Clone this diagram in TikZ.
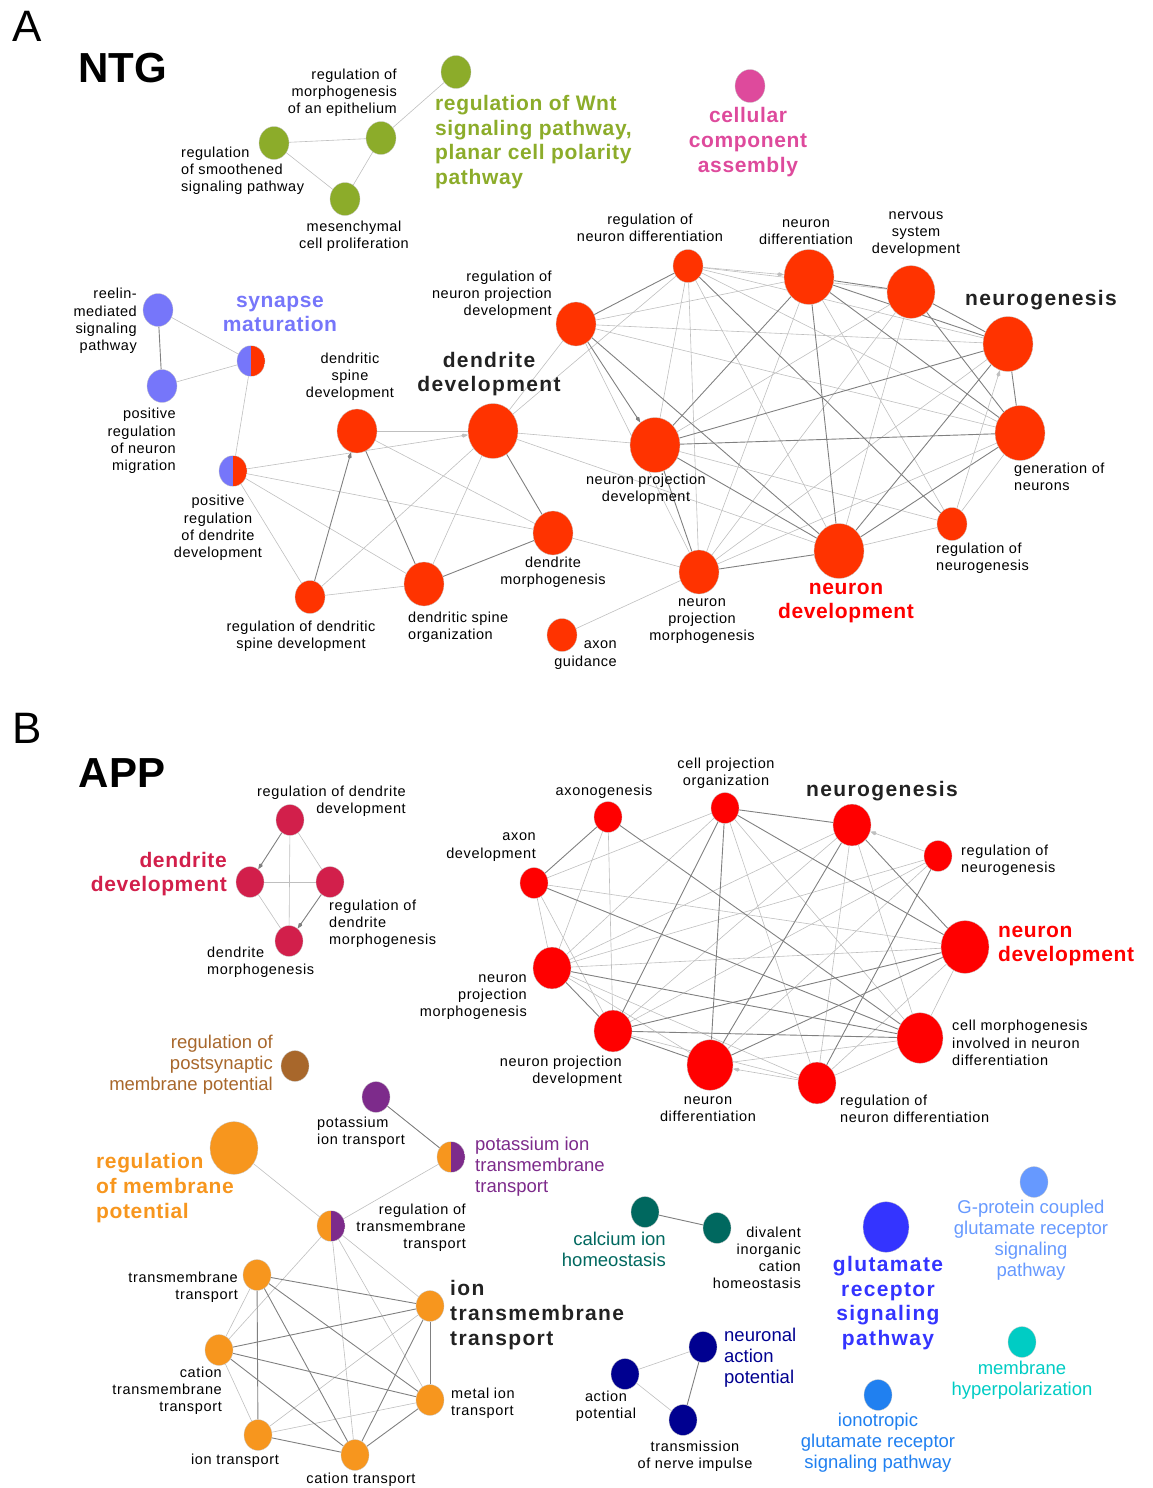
\documentclass[tikz,border=0pt]{standalone}
\usepackage{fontspec}
\setmainfont{Liberation Sans}
\usetikzlibrary{positioning,calc,arrows.meta,shapes.geometric}
\pgfdeclarelayer{background}
\pgfsetlayers{background,main}

\definecolor{ntgred}{HTML}{FF3300}
\definecolor{appred}{HTML}{FF0000}
\definecolor{wntgreen}{HTML}{8CAC2A}
\definecolor{ccapink}{HTML}{DE4A9C}
\definecolor{synblue}{HTML}{7676FA}
\definecolor{dendcrim}{HTML}{D21F4B}
\definecolor{psbrown}{HTML}{A8672B}
\definecolor{kpurple}{HTML}{7D2B8B}
\definecolor{memorange}{HTML}{F7961E}
\definecolor{caTeal}{HTML}{00685F}
\definecolor{apnavy}{HTML}{000090}
\definecolor{glublue}{HTML}{3434FF}
\definecolor{gpcrblue}{HTML}{6699FF}
\definecolor{iontblue}{HTML}{2080F0}
\definecolor{hypcyan}{HTML}{00CCC4}
\definecolor{darklbl}{HTML}{222222}

\newcommand\lblfont{\fontsize{14.5}{17.2}\selectfont\addfontfeature{LetterSpace=3.5}}
\newcommand\applblfont{\fontsize{14.5}{17.2}\selectfont\addfontfeature{LetterSpace=4.5}}
\newcommand\termfont{\fontsize{18.5}{21}\selectfont}
\newcommand\hdrfont{\fontsize{21}{24.6}\selectfont\bfseries\addfontfeature{LetterSpace=3}}
\newcommand\widehdrfont{\fontsize{21}{24.6}\selectfont\bfseries\addfontfeature{LetterSpace=6.5}}
\newcommand\panelfont{\fontsize{44}{48}\selectfont}
\newcommand\netfont{\fontsize{42}{46}\selectfont\bfseries}

\tikzset{
  go/.style={ellipse, inner sep=0pt, draw=gray!45, line width=0.3pt,
    minimum width=#1pt, minimum height={1.1*#1pt}},
  halfgo/.style n args={3}{go=#1, path picture={
    \fill[#2] (path picture bounding box.south west) rectangle (path picture bounding box.north);
    \fill[#3] (path picture bounding box.south) rectangle (path picture bounding box.north east);}},
  lbl/.style={inner sep=0pt, font=\lblfont},
  applbl/.style={inner sep=0pt, font=\applblfont},
  term/.style={inner sep=0pt, font=\termfont},
  hdr/.style={inner sep=0pt, font=\hdrfont},
  widehdr/.style={inner sep=0pt, font=\widehdrfont, text=darklbl},
  dk/.style={draw=black!50, line width=0.9pt},
  lt/.style={draw=black!25, line width=0.6pt},
  tip/.style={-{Kite[length=7pt,width=4pt,inset=2pt]}},
}

\begin{document}
\begin{tikzpicture}[x=1pt,y=-1pt]
\useasboundingbox (0,0) rectangle (1152,1488);

% ---------- A : NTG ----------
\node[font=\panelfont] (panA) at (27,26) {A};
\node[font=\netfont] (ntg) at (123,68) {NTG};

\node[go=30,fill=wntgreen] (wnt) at (456,72) {};
\node[go=30,fill=wntgreen] (morph) at (381,138) {};
\node[go=30,fill=wntgreen] (smooth) at (274,143) {};
\node[go=30,fill=wntgreen] (mesen) at (345,199) {};
\node[go=30,fill=ccapink] (cca) at (750,86) {};

\node[go=30,fill=synblue] (reelin) at (158,310) {};
\node[go=30,fill=synblue] (posmig) at (162,386) {};
\node[halfgo={28}{synblue}{ntgred}] (synmat) at (251,361) {};
\node[halfgo={28}{synblue}{ntgred}] (posdend) at (233,471) {};

\node[go=30,fill=ntgred] (regdiff) at (688,266) {};
\node[go=50,fill=ntgred] (neurdiff) at (809,277) {};
\node[go=48,fill=ntgred] (nsd) at (911,292) {};
\node[go=50,fill=ntgred] (neurogen) at (1008,344) {};
\node[go=50,fill=ntgred] (genneur) at (1020,433) {};
\node[go=30,fill=ntgred] (regneurogen) at (952,524) {};
\node[go=50,fill=ntgred] (neurdev) at (839,551) {};
\node[go=40,fill=ntgred] (npm) at (699,572) {};
\node[go=50,fill=ntgred] (npd) at (655,445) {};
\node[go=40,fill=ntgred] (regnpd) at (576,324) {};
\node[go=50,fill=ntgred] (dendev) at (493,431) {};
\node[go=40,fill=ntgred] (dsd) at (357,431) {};
\node[go=40,fill=ntgred] (dmorph) at (553,533) {};
\node[go=40,fill=ntgred] (dso) at (424,584) {};
\node[go=30,fill=ntgred] (rdsd) at (310,597) {};
\node[go=30,fill=ntgred] (axon) at (562,635) {};

\node[lbl, align=right, anchor=east] (l-morph) at (397,93) {regulation of\\morphogenesis\\of an epithelium};
\node[lbl, align=left, anchor=west] (l-smooth) at (181,171) {regulation\\of smoothened\\signaling pathway};
\node[lbl, align=center] (l-mesen) at (354,236) {mesenchymal\\cell proliferation};
\node[hdr, text=wntgreen, align=left, anchor=west] (l-wnt) at (435,142) {regulation of Wnt\\signaling pathway,\\planar cell polarity\\pathway};
\node[hdr, text=ccapink, align=center] (l-cca) at (748,142) {cellular\\component\\assembly};
\node[lbl, align=right, anchor=east] (l-reelin) at (137,321) {reelin-\\mediated\\signaling\\pathway};
\node[hdr, text=synblue, align=center] (l-synmat) at (280,314) {synapse\\maturation};
\node[lbl, align=right, anchor=east] (l-posmig) at (176,441) {positive\\regulation\\of neuron\\migration};
\node[lbl, align=center] (l-dsd) at (350,377) {dendritic\\spine\\development};
\node[widehdr, align=center] (l-dendev) at (489,374) {dendrite\\development};
\node[lbl, align=center] (l-posdend) at (218,528) {positive\\regulation\\of dendrite\\development};
\node[lbl, align=center] (l-rdsd) at (301,636) {regulation of dendritic\\spine development};
\node[lbl, align=left, anchor=west] (l-dso) at (408,627) {dendritic spine\\organization};
\node[lbl, align=center] (l-dmorph) at (553,572) {dendrite\\morphogenesis};
\node[lbl, align=right, anchor=east] (l-axon) at (617,655) {axon\\guidance};
\node[lbl, align=center] (l-npm) at (702,621) {neuron\\projection\\morphogenesis};
\node[hdr, text=appred, align=center] (l-neurdev) at (846,603) {neuron\\development};
\node[lbl, align=left, anchor=west] (l-regneurogen) at (936,558) {regulation of\\neurogenesis};
\node[lbl, align=left, anchor=west] (l-genneur) at (1014,477) {generation of\\neurons};
\node[widehdr] (l-neurogen) at (1041,300) {neurogenesis};
\node[lbl, align=center] (l-nsd) at (916,234) {nervous\\system\\development};
\node[lbl, align=center] (l-neurdiff) at (806,232) {neuron\\differentiation};
\node[lbl, align=center] (l-regdiff) at (650,228) {regulation of\\neuron differentiation};
\node[lbl, align=right, anchor=east] (l-regnpd) at (552,295) {regulation of\\neuron projection\\development};
\node[lbl, align=center] (l-npd) at (646,489) {neuron projection\\development};

% ---------- B : APP ----------
\node[font=\panelfont] (panB) at (27,728) {B};
\node[font=\netfont] (app) at (122,773) {APP};

\node[go=28,fill=dendcrim] (rdd) at (290,820) {};
\node[go=28,fill=dendcrim] (dd) at (250,882) {};
\node[go=28,fill=dendcrim] (rdm) at (330,882) {};
\node[go=28,fill=dendcrim] (dm) at (289,941) {};

\node[go=28,fill=appred] (axg) at (608,817) {};
\node[go=28,fill=appred] (cpo) at (725,808) {};
\node[go=38,fill=appred] (ng) at (852,825) {};
\node[go=28,fill=appred] (rng) at (938,856) {};
\node[go=48,fill=appred] (nd) at (965,947) {};
\node[go=46,fill=appred] (cmi) at (920,1038) {};
\node[go=38,fill=appred] (rnd) at (817,1083) {};
\node[go=46,fill=appred] (ndiff) at (710,1065) {};
\node[go=38,fill=appred] (npd2) at (613,1031) {};
\node[go=38,fill=appred] (npm2) at (552,968) {};
\node[go=28,fill=appred] (ad) at (534,883) {};

\node[go=28,fill=psbrown] (rpmp) at (295,1066) {};
\node[go=28,fill=kpurple] (pit) at (376,1097) {};
\node[halfgo={28}{memorange}{kpurple}] (pitt) at (451,1157) {};
\node[halfgo={28}{memorange}{kpurple}] (rtt) at (331,1226) {};
\node[go=48,fill=memorange] (rmp) at (234,1148) {};
\node[go=28,fill=memorange] (tt) at (257,1275) {};
\node[go=28,fill=memorange] (itt) at (430,1306) {};
\node[go=28,fill=memorange] (ctt) at (219,1350) {};
\node[go=28,fill=memorange] (mit) at (430,1400) {};
\node[go=28,fill=memorange] (it) at (258,1435) {};
\node[go=28,fill=memorange] (ct) at (355,1455) {};

\node[go=28,fill=caTeal] (cih) at (645,1212) {};
\node[go=28,fill=caTeal] (dich) at (717,1228) {};
\node[go=28,fill=apnavy] (nap) at (703,1347) {};
\node[go=28,fill=apnavy] (ap) at (625,1374) {};
\node[go=28,fill=apnavy] (tni) at (683,1420) {};
\node[go=46,fill=glublue] (grsp) at (886,1227) {};
\node[go=28,fill=gpcrblue] (gpcr) at (1034,1182) {};
\node[go=28,fill=iontblue] (igr) at (878,1395) {};
\node[go=28,fill=hypcyan] (mh) at (1022,1342) {};

\node[applbl, align=right, anchor=east] (l-rdd) at (406,801) {regulation of dendrite\\development};
\node[hdr, text=dendcrim, align=right, anchor=east] (l-dd) at (227,874) {dendrite\\development};
\node[applbl, align=left, anchor=west] (l-rdm) at (329,924) {regulation of\\dendrite\\morphogenesis};
\node[applbl, align=left, anchor=west] (l-dm) at (207,962) {dendrite\\morphogenesis};
\node[applbl] (l-axg) at (604,792) {axonogenesis};
\node[applbl, align=center] (l-cpo) at (726,773) {cell projection\\organization};
\node[widehdr] (l-ng) at (882,791) {neurogenesis};
\node[applbl, align=left, anchor=west] (l-rng) at (961,860) {regulation of\\neurogenesis};
\node[applbl, align=right, anchor=east] (l-ad) at (536,847) {axon\\development};
\node[hdr, text=appred, align=left, anchor=west] (l-nd) at (998,946) {neuron\\development};
\node[applbl, align=right, anchor=east] (l-npm2) at (527,997) {neuron\\projection\\morphogenesis};
\node[applbl, align=left, anchor=west] (l-cmi) at (952,1043) {cell morphogenesis\\involved in neuron\\differentiation};
\node[applbl, align=right, anchor=east] (l-npd2) at (622,1071) {neuron projection\\development};
\node[applbl, align=center] (l-ndiff) at (708,1109) {neuron\\differentiation};
\node[applbl, align=left, anchor=west] (l-rnd) at (840,1109) {regulation of\\neuron differentiation};
\node[term, text=psbrown, align=right, anchor=east] (l-rpmp) at (273,1065) {regulation of\\postsynaptic\\membrane potential};
\node[applbl, align=left, anchor=west] (l-pit) at (317,1132) {potassium\\ion transport};
\node[term, text=kpurple, align=left, anchor=west] (l-pitt) at (475,1167) {potassium ion\\transmembrane\\transport};
\node[hdr, text=memorange, align=left, anchor=west] (l-rmp) at (96,1188) {regulation\\of membrane\\potential};
\node[applbl, align=right, anchor=east] (l-rtt) at (466,1228) {regulation of\\transmembrane\\transport};
\node[term, text=caTeal, align=right, anchor=east] (l-cih) at (666,1249) {calcium ion\\homeostasis};
\node[applbl, align=right, anchor=east] (l-dich) at (801,1258) {divalent\\inorganic\\cation\\homeostasis};
\node[widehdr, text=glublue, align=center] (l-grsp) at (888,1303) {glutamate\\receptor\\signaling\\pathway};
\node[term, text=gpcrblue, align=center] (l-gpcr) at (1031,1240) {G-protein coupled\\glutamate receptor\\signaling\\pathway};
\node[applbl, align=right, anchor=east] (l-tt) at (238,1287) {transmembrane\\transport};
\node[widehdr, align=left, anchor=west] (l-itt) at (450,1315) {ion\\transmembrane\\transport};
\node[term, text=apnavy, align=left, anchor=west] (l-nap) at (724,1358) {neuronal\\action\\potential};
\node[term, text=hypcyan, align=center] (l-mh) at (1022,1380) {membrane\\hyperpolarization};
\node[applbl, align=right, anchor=east] (l-ctt) at (222,1391) {cation\\transmembrane\\transport};
\node[applbl, align=left, anchor=west] (l-mit) at (451,1403) {metal ion\\transport};
\node[applbl, align=center] (l-ap) at (606,1406) {action\\potential};
\node[term, text=iontblue, align=center] (l-igr) at (878,1443) {ionotropic\\glutamate receptor\\signaling pathway};
\node[applbl, align=center] (l-tni) at (695,1456) {transmission\\of nerve impulse};
\node[applbl] (l-it) at (235,1461) {ion transport};
\node[applbl] (l-ct) at (361,1480) {cation transport};

% ---------- edges ----------
\begin{pgfonlayer}{background}
% NTG
\foreach \a/\b in {wnt/morph,morph/smooth,morph/mesen,smooth/mesen,
    reelin/synmat,posmig/synmat,synmat/posdend,
    regdiff/nsd,regdiff/neurogen,regdiff/npd,regdiff/neurdev,regdiff/dendev,regdiff/genneur,
    neurdiff/npm,neurdiff/regneurogen,neurdiff/regnpd,nsd/neurdev,nsd/npd,nsd/npm,
    neurogen/npm,neurogen/regnpd,genneur/regneurogen,genneur/npm,genneur/regnpd,
    regneurogen/neurdev,regneurogen/npd,npm/regnpd,npm/dmorph,npm/axon,npm/regdiff,
    dendev/regnpd,dendev/npd,dendev/neurdev,dendev/dso,dsd/dendev,
    posdend/dmorph,posdend/dso,posdend/rdsd,dsd/dmorph,rdsd/dendev,rdsd/dso}
  \draw[lt] (\a) -- (\b);
\foreach \a/\b in {reelin/posmig,regdiff/regnpd,regdiff/regneurogen,regnpd/neurdev,
    npd/neurdev,npd/neurdiff,npd/genneur,npd/neurogen,npd/npm,
    neurdiff/nsd,neurdiff/neurogen,neurdiff/genneur,neurdiff/neurdev,
    nsd/neurogen,nsd/genneur,neurogen/genneur,neurogen/neurdev,genneur/neurdev,
    npm/neurdev,dendev/dmorph,dsd/dso,dso/dmorph}
  \draw[dk] (\a) -- (\b);
\draw[lt,tip] (regdiff) -- (neurdiff);
\draw[lt,tip] (regneurogen) -- (neurogen);
\draw[lt,tip] (posdend) -- (dendev);
\draw[dk,tip] (regnpd) -- (npd);
\draw[dk,tip] (rdsd) -- (dsd);
% APP
\foreach \a/\b in {rdd/rdm,rdd/dm,dd/rdm,dd/dm,
    axg/npm2,axg/npd2,cpo/ad,cpo/npm2,cpo/rnd,cpo/cmi,ng/npm2,ng/npd2,ng/rnd,ng/cmi,
    rng/npd2,rng/ndiff,rng/npm2,ad/npm2,ad/npd2,ad/nd,npm2/nd,npm2/ndiff,npm2/rnd,
    npd2/rnd,ndiff/cmi,rnd/cmi,rnd/nd,cmi/nd,
    pitt/rtt,rmp/rtt,rtt/ctt,rtt/ct,rtt/mit,rtt/itt,ap/nap,ap/tni,
    tt/ctt,ctt/it,itt/it,mit/it}
  \draw[lt] (\a) -- (\b);
\foreach \a/\b in {axg/ad,axg/cmi,cpo/ng,cpo/npd2,cpo/ndiff,cpo/nd,ng/ndiff,ng/nd,rng/rnd,
    ad/cmi,npm2/npd2,npm2/cmi,npd2/ndiff,npd2/nd,npd2/cmi,ndiff/nd,
    pit/pitt,cih/dich,nap/tni,
    tt/itt,tt/mit,tt/it,tt/ct,itt/ctt,itt/mit,itt/ct,ctt/mit,ctt/ct,mit/ct,it/ct}
  \draw[dk] (\a) -- (\b);
\draw[dk,tip] (rdd) -- (dd);
\draw[dk,tip] (rdm) -- (dm);
\draw[lt,tip] (rng) -- (ng);
\draw[lt,tip] (rnd) -- (ndiff);
\end{pgfonlayer}
\end{tikzpicture}
\end{document}
